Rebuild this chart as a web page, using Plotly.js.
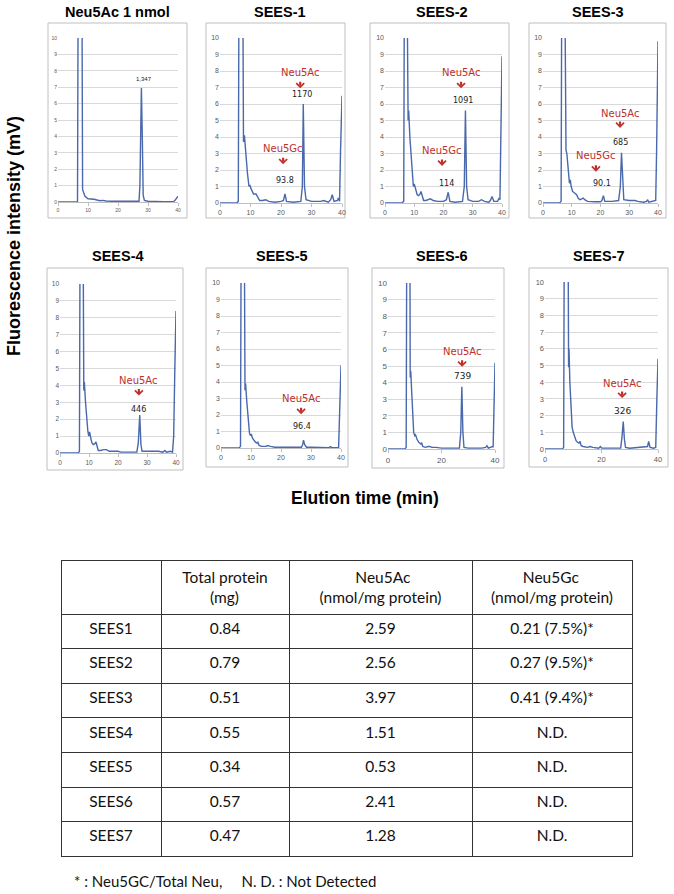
<!DOCTYPE html>
<html><head><meta charset="utf-8">
<script src="https://cdn.plot.ly/plotly-3.0.1.min.js"></script>
<style>html,body{margin:0;padding:0;background:#fff}#chart{width:674px;height:894px}</style>
</head><body><div id="chart"></div>
<script>
// ---------------- DATA ----------------
const panelTitles = ['Neu5Ac 1 nmol','SEES-1','SEES-2','SEES-3','SEES-4','SEES-5','SEES-6','SEES-7'];

const timeStd = [0,6.5,6.7,8.0,8.2,9,10,11,12,13,14,15,16,18,20,25,27,27.3,27.8,28.1,28.4,28.8,30,35,38.5,39,40];
const sigStd  = [0,0,12,12,0.75,0.35,0.2,0.2,0.17,0.12,0.08,0.1,0.06,0.05,0.05,0.03,0.05,1,6.95,4,0.4,0.1,0.05,0.02,0.02,0.1,0.35];

const timeS1 = [0,5.5,6.0,6.2,7.5,7.7,8.0,8.4,9,9.5,9.8,10.1,10.6,11,11.8,12.3,13,14,15,16,18,20,20.8,21.3,21.8,24,26.5,27.0,27.3,27.7,28.2,30,33,34,35.5,36.3,36.8,37.4,38.5,38.8,39.2,39.5,40];
const sigS1  = [0,0,0.1,12,12,3.7,4.1,3.0,1.8,1.0,1.1,0.9,0.7,0.55,0.55,0.4,0.15,0.15,0.2,0.1,0.05,0.1,0.15,0.55,0.1,0.05,0.1,1,6.0,1,0.2,0.1,0.1,0.15,0.05,0.2,0.5,0.1,0.15,0.3,0.1,3,6.5];

const timeS2 = [0,5.8,6.4,6.6,7.6,7.9,8.1,8.5,9,9.4,9.7,10.0,10.5,11,11.5,12,12.3,12.7,13.2,14,15,15.5,16.5,18,20,21,21.6,22.2,24,26.5,27.1,27.5,27.9,28.4,30,32,33,34,35.5,36,36.6,37.2,38.5,39,39.3,39.6,40];
const sigS2  = [0,0,0.1,12,12,5.0,5.6,4,2.5,1.3,1.0,1.15,0.8,0.5,0.45,0.55,0.7,0.4,0.15,0.15,0.2,0.25,0.15,0.1,0.1,0.2,0.65,0.1,0.05,0.1,1,5.6,1,0.2,0.1,0.1,0.2,0.1,0.05,0.15,0.4,0.1,0.1,0.3,0.2,5,8.9];

const timeS3 = [0,5.8,6.3,6.5,7.65,8.0,8.3,8.7,9.2,9.5,9.8,10.3,11,11.7,12.2,12.8,13.5,14,14.5,15.5,18,20,20.5,21.0,21.5,24,26.3,26.9,27.3,27.7,28.1,30,32,33,35,36,36.4,36.8,38.5,39.2,39.5,40];
const sigS3  = [0,0,0.1,12,12,3.2,3.0,2.2,1.2,1.4,1.0,0.7,0.6,0.5,0.3,0.2,0.25,0.3,0.2,0.1,0.08,0.08,0.15,0.45,0.1,0.1,0.15,1,3.05,1,0.2,0.15,0.15,0.1,0.05,0.1,0.2,0.05,0.1,0.15,3,9.8];

const timeS4 = [0,6.3,6.7,6.9,8.0,8.2,8.4,8.8,9.3,9.6,9.9,10.2,10.6,11,11.5,12,12.4,12.8,13.2,14,15,16,17,19,20,21,25,26.5,27.0,27.5,27.9,28.3,30,34,35.5,36.2,36.7,38,38.8,39.2,39.6,40];
const sigS4  = [0,0,0.1,12,12,3.7,4.2,3,1.8,1.3,1.0,1.25,0.9,0.6,0.5,0.55,0.65,0.3,0.15,0.15,0.2,0.2,0.1,0.1,0.1,0.05,0.05,0.05,0.6,2.25,0.5,0.1,0.1,0.1,0.05,0.15,0.05,0.1,0.05,1,5,8.4];

const timeS5 = [0,6.0,6.5,6.7,7.8,8.0,8.2,8.6,9.1,9.5,9.8,10.1,10.5,11,11.5,12,12.3,12.7,13.5,15,15.5,16.5,18,20,25,26.8,27.2,27.5,27.9,28.5,30,35,36,36.5,37,39.2,39.6,40];
const sigS5  = [0,0,0.1,12,12,3.5,3.9,2.8,1.5,0.9,0.75,0.85,0.6,0.45,0.35,0.3,0.35,0.15,0.1,0.1,0.15,0.1,0.05,0.05,0.05,0.05,0.2,0.48,0.2,0.05,0.05,0.05,0.02,0.08,0.02,0.02,2.5,5.0];

const timeS6 = [0,6.3,6.8,7.0,8.2,8.3,8.5,8.9,9.3,9.6,10.0,10.3,10.8,11.5,12.3,12.6,13,14,15,15.5,16.5,18,20,25,26.7,27.2,27.6,28.0,28.4,30,35,36.5,37,37.5,38.5,39,39.3,39.6,40];
const sigS6  = [0,0,0.1,12,12,4.3,4.7,3.3,1.8,1.0,0.8,0.85,0.6,0.4,0.3,0.35,0.15,0.1,0.15,0.15,0.1,0.1,0.05,0.05,0.05,1,3.75,1,0.1,0.05,0.05,0.1,0.2,0.05,0.1,0.15,0.1,3,5.2];

const timeS7 = [0,6.2,6.6,6.8,8.2,8.35,8.5,8.8,9.2,9.6,10,10.5,11,11.5,12,12.4,12.8,13.5,15,16,17,19,19.6,20.1,25,26.8,27.3,27.7,28.1,28.5,30,35,36.3,36.7,37.2,38.5,39.2,39.6,40];
const sigS7  = [0,0,0.1,12,12,4.9,6.0,4,2.5,1.3,1.0,0.7,0.5,0.4,0.35,0.45,0.2,0.15,0.1,0.15,0.1,0.05,0.15,0.05,0.05,0.05,0.8,1.65,0.6,0.1,0.05,0.1,0.15,0.45,0.1,0.05,0.1,3,5.4];

const seriesTimes = [timeStd,timeS1,timeS2,timeS3,timeS4,timeS5,timeS6,timeS7];
const seriesSignals = [sigStd,sigS1,sigS2,sigS3,sigS4,sigS5,sigS6,sigS7];

// peak labels
const peakPanel = [1,1,2,2,3,3,4,5,6,7];
const peakName  = ['Neu5Ac','Neu5Gc','Neu5Ac','Neu5Gc','Neu5Ac','Neu5Gc','Neu5Ac','Neu5Ac','Neu5Ac','Neu5Ac'];
const peakArea  = ['1170','93.8','1091','114','685','90.1','446','96.4','739','326'];
const nameX = [26.3,20.7,26.0,19.5,26.8,18.4,27.2,26.7,27.7,27.3];
const nameY = [7.9,3.3,7.9,3.2,5.45,2.85,4.3,3.0,5.85,3.95];
const tipY  = [6.95,2.35,6.95,2.25,4.55,1.9,3.4,2.05,4.95,3.05];
const areaX = [27.0,21.3,26.7,20.9,27.1,20.5,27.2,27.0,27.8,27.3];
const areaY = [6.55,1.35,6.2,1.2,3.65,1.2,2.6,1.3,4.4,2.3];
const stdArea = '1,347', stdAreaX = 28.7, stdAreaY = 7.5;

// table
const tableSamples = ['SEES1','SEES2','SEES3','SEES4','SEES5','SEES6','SEES7'];
const totalProtein = ['0.84','0.79','0.51','0.55','0.34','0.57','0.47'];
const neu5acValues = ['2.59','2.56','3.97','1.51','0.53','2.41','1.28'];
const neu5gcValues = ['0.21 (7.5%)*','0.27 (9.5%)*','0.41 (9.4%)*','N.D.','N.D.','N.D.','N.D.'];
const headerLine1 = ['','Total protein','Neu5Ac','Neu5Gc'];
const headerLine2 = ['','(mg)','(nmol/mg protein)','(nmol/mg protein)'];
const footnote = '* : Neu5GC/Total Neu,     N. D. : Not Detected';

// ---------------- LAYOUT GEOMETRY (pixels) ----------------
const W = 674, H = 894;
const px = v => v / W, py = v => 1 - v / H;
const plotArea = [[58,178,38,202],[220,342,38,203],[385,502,38,203],[543,658,38,203],
                  [60,176,284,453],[221,341,283,448],[388,495,283,449],[545,658,282,449]];
const frames = [[48,187,23,218],[206,345,23,218],[370,509,23,218],[529,666,23,218],
                [47,183,268,470],[206,348,268,467],[372,504,268,468],[529,668,268,467]];
const titlePos = [[117,12],[280,12],[442,12],[598,12],[118,256],[282,256],[442,256],[599,256]];
const tickSize = [5,7,7,7,6.5,7,8,7.5];
const xStep = [10,10,10,10,10,10,20,20];
// left padding (non-breaking spaces) to visually centre the shorter header line
const headerPad1 = [0,0,9,8], headerPad2 = [0,7,0,0];
const nb = k => '\u00a0'.repeat(k);
const tableHeaders = headerLine1.map((t, i) => headerLine1[i] === '' ? '' :
  nb(headerPad1[i]) + t + '<br>' + nb(headerPad2[i]) + headerLine2[i]);

const LINE = '#4a68ac', RED = '#c0302c';
const data = [], annotations = [], shapes = [];
const layout = {width: W, height: H, margin: {l:0,r:0,t:0,b:0}, showlegend: false,
  paper_bgcolor: '#fff', plot_bgcolor: '#fff', font: {family: 'Liberation Sans, Arial, sans-serif'}};

for (let i = 0; i < 8; i++) {
  const n = i + 1, xa = 'xaxis' + (n === 1 ? '' : n), ya = 'yaxis' + (n === 1 ? '' : n);
  const xr = 'x' + (n === 1 ? '' : n), yr = 'y' + (n === 1 ? '' : n);
  const pa = plotArea[i];
  data.push({type: 'scatter', mode: 'lines', x: seriesTimes[i], y: seriesSignals[i],
    xaxis: xr, yaxis: yr, line: {color: LINE, width: 1.4}, hoverinfo: 'skip'});
  layout[xa] = {domain: [px(pa[0]), px(pa[1])], anchor: yr, range: [0, 40], dtick: xStep[i], tick0: 0,
    showgrid: false, zeroline: false, showline: true, linecolor: '#bfbfbf', linewidth: 1,
    ticks: 'outside', ticklen: 3, tickcolor: '#bfbfbf', tickfont: {size: tickSize[i], color: '#595959'}, fixedrange: true};
  layout[ya] = {domain: [py(pa[3]), py(pa[2])], anchor: xr, range: [0, 10], dtick: 1, tick0: 0,
    showgrid: true, gridcolor: '#d9d9d9', gridwidth: 1, zeroline: false, showline: false,
    ticks: '', tickfont: {size: tickSize[i], color: '#595959'}, fixedrange: true};
  const f = frames[i];
  shapes.push({type: 'rect', xref: 'paper', yref: 'paper', x0: px(f[0]), x1: px(f[1]), y0: py(f[3]), y1: py(f[2]),
    line: {color: '#bfbfbf', width: 1}, fillcolor: 'rgba(0,0,0,0)', layer: 'below'});
  annotations.push({xref: 'paper', yref: 'paper', x: px(titlePos[i][0]), y: py(titlePos[i][1]),
    text: '<b>' + panelTitles[i] + '</b>', showarrow: false, xanchor: 'center', yanchor: 'middle',
    font: {size: 14.5, color: '#000', family: 'Liberation Sans, Arial, sans-serif'}});
}

// standard peak area
annotations.push({xref: 'x', yref: 'y', x: stdAreaX, y: stdAreaY, text: stdArea, showarrow: false,
  xanchor: 'center', yanchor: 'middle', font: {size: 6, color: '#222'}});

for (let k = 0; k < peakPanel.length; k++) {
  const n = peakPanel[k] + 1, xr = 'x' + n, yr = 'y' + n;
  annotations.push({xref: xr, yref: yr, x: nameX[k], y: nameY[k], text: peakName[k], showarrow: false,
    xanchor: 'center', yanchor: 'middle', font: {size: 10, color: RED, family: 'DejaVu Sans, sans-serif'}});
  annotations.push({xref: xr, yref: yr, x: nameX[k], y: tipY[k], ax: 0, ay: -8,
    text: '', showarrow: true, arrowhead: 4, arrowsize: 0.7, arrowwidth: 2.2, arrowcolor: RED, standoff: 0});
  annotations.push({xref: xr, yref: yr, x: areaX[k], y: areaY[k], text: peakArea[k], showarrow: false,
    xanchor: 'center', yanchor: 'middle',
    font: {size: n === 7 || n === 8 ? 9 : 8, color: '#222', family: 'DejaVu Sans, sans-serif'}});
}

// axis titles
annotations.push({xref: 'paper', yref: 'paper', x: px(14), y: py(236), xanchor: 'center', yanchor: 'middle',
  text: '<b>Fluorescence intensity (mV)</b>', textangle: -90, showarrow: false, font: {size: 18, color: '#000'}});
annotations.push({xref: 'paper', yref: 'paper', x: px(365), y: py(498), xanchor: 'center', yanchor: 'middle',
  text: '<b>Elution time (min)</b>', showarrow: false, font: {size: 17.5, color: '#000'}});
// footnote
annotations.push({xref: 'paper', yref: 'paper', x: px(72), y: py(881), xanchor: 'left', yanchor: 'middle',
  text: footnote.replace(/  /g, '\u00a0\u00a0'), showarrow: false,
  font: {size: 15, color: '#111', family: 'Lato, sans-serif'}});

data.push({type: 'table', domain: {x: [px(61), px(632)], y: [py(875), py(560)]},
  columnwidth: [100, 128, 183, 160],
  header: {values: tableHeaders, align: 'center', height: 54, line: {color: '#333', width: 1},
    fill: {color: '#fff'}, font: {family: 'Lato, sans-serif', size: 15.5, color: '#111'}},
  cells: {values: [tableSamples, totalProtein, neu5acValues, neu5gcValues], align: 'center', height: 34.6,
    line: {color: '#333', width: 1}, fill: {color: '#fff'}, font: {family: 'Lato, sans-serif', size: 15.5, color: '#111'}}
});

layout.annotations = annotations;
layout.shapes = shapes;
Plotly.newPlot('chart', data, layout, {staticPlot: true, displayModeBar: false});
</script></body></html>
